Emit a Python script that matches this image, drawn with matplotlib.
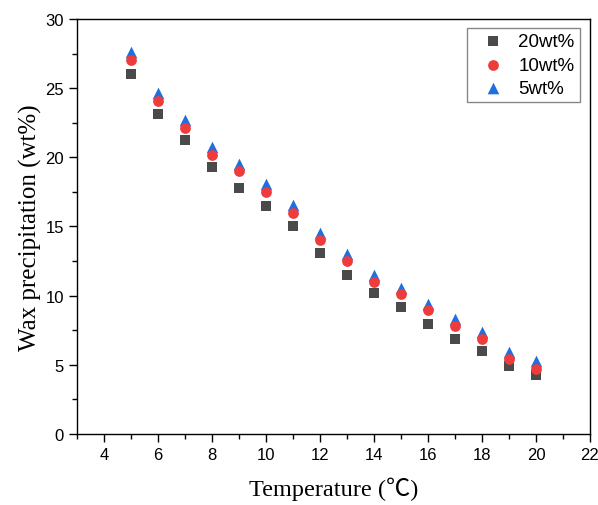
import matplotlib
matplotlib.use("Agg")
import matplotlib.pyplot as plt
from matplotlib.ticker import MultipleLocator

temps = [5, 6, 7, 8, 9, 10, 11, 12, 13, 14, 15, 16, 17, 18, 19, 20]
wt20 = [26.0, 23.1, 21.25, 19.3, 17.8, 16.5, 15.05, 13.1, 11.5, 10.2, 9.2, 7.95, 6.85, 6.0, 4.95, 4.3]
wt10 = [27.0, 24.1, 22.15, 20.2, 19.0, 17.5, 16.0, 14.0, 12.5, 11.0, 10.1, 8.97, 7.8, 6.87, 5.4, 4.7]
wt5 = [27.6, 24.65, 22.7, 20.75, 19.5, 18.05, 16.55, 14.5, 13.0, 11.5, 10.55, 9.4, 8.3, 7.4, 5.9, 5.3]
labels = ["20wt%", "10wt%", "5wt%"]

fig = plt.figure(figsize=(5.98, 5.06), dpi=100)
ax = fig.add_axes([0.1288, 0.1403, 0.8578, 0.8202])

ax.scatter(temps, wt20, marker='s', s=50, color='#4a4a4a', label=labels[0], zorder=3, linewidths=0)
ax.scatter(temps, wt10, marker='o', s=60, color='#ee3b3b', label=labels[1], zorder=4, linewidths=0)
ax.scatter(temps, wt5, marker='^', s=70, color='#1f6fe0', label=labels[2], zorder=2, linewidths=0)

ax.set_xlim(3, 22)
ax.set_ylim(0, 30)
ax.xaxis.set_major_locator(MultipleLocator(2))
ax.xaxis.set_minor_locator(MultipleLocator(1))
ax.yaxis.set_major_locator(MultipleLocator(5))
ax.yaxis.set_minor_locator(MultipleLocator(2.5))
ax.tick_params(which='both', direction='out', top=False, right=False, width=1.0)
ax.tick_params(which='major', length=6, labelsize=12)
ax.tick_params(which='minor', length=3.5)
for lab in ax.get_xticklabels() + ax.get_yticklabels():
    lab.set_fontfamily('Liberation Sans')
for sp in ax.spines.values():
    sp.set_linewidth(1.0)

serif = ['Liberation Serif', 'Noto Sans CJK SC', 'DejaVu Sans']
ax.set_xlabel('Temperature (\u2103)', fontfamily=serif, fontsize=17.5, labelpad=10)
ax.set_ylabel('Wax precipitation (wt%)', fontfamily=serif, fontsize=18, labelpad=2)

leg = ax.legend(loc='upper right', prop={'family': 'Liberation Sans', 'size': 13.5},
                fancybox=False, edgecolor='#888888', framealpha=1, handletextpad=0.25,
                borderpad=0.28, labelspacing=0.33, handlelength=2.2, borderaxespad=0,
                bbox_to_anchor=(0.9805, 0.9785))
leg.get_frame().set_linewidth(1.0)

fig.savefig('out.png', dpi=100)
